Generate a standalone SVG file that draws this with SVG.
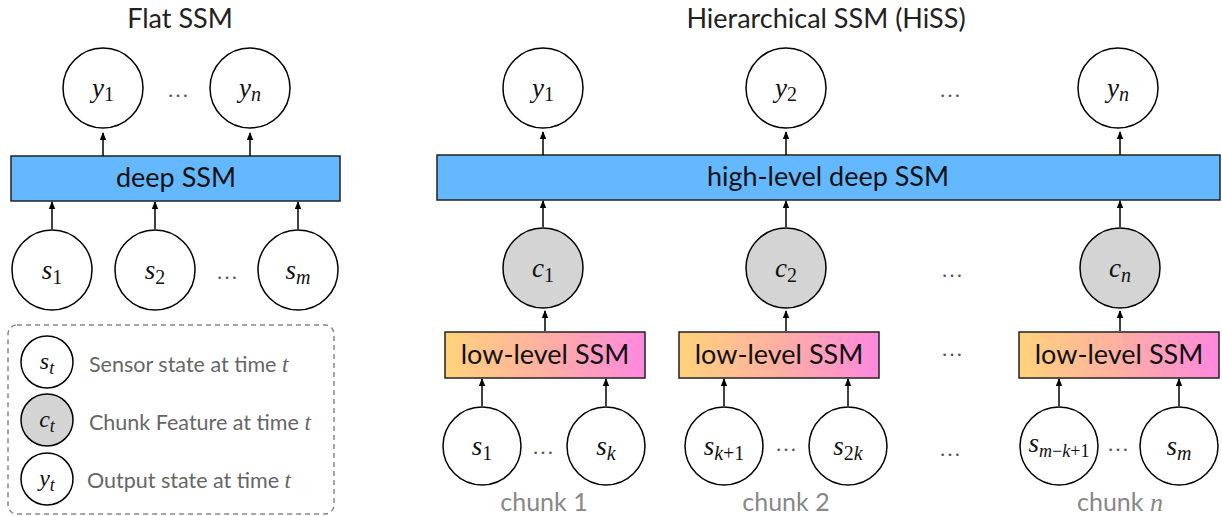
<svg xmlns="http://www.w3.org/2000/svg" width="1222" height="516" viewBox="0 0 1222 516">
<style>
.node{fill:#fff;stroke:#000;stroke-width:1.5}
.gray{fill:#d4d4d4;stroke:#000;stroke-width:1.5}
.hi{fill:#63b8ff;stroke:#222;stroke-width:1.5}
.lo{fill:url(#grad);stroke:#222;stroke-width:1.5}
.title{font-family:Lato,"Open Sans",sans-serif;font-size:27px;fill:#222;text-anchor:middle}
.box{font-family:Lato,"Open Sans",sans-serif;font-size:27px;fill:#111;text-anchor:middle}
.math{font-family:"Liberation Serif","Times New Roman",serif;font-size:27px;fill:#111;text-anchor:middle}
.sm{font-family:"Liberation Serif","Times New Roman",serif;font-size:24px;fill:#111;text-anchor:middle}
.it{font-style:italic}
.dots{font-family:"Liberation Serif",serif;font-size:22px;fill:#555;text-anchor:middle}
.leg{font-family:Lato,"Open Sans",sans-serif;font-size:21.5px;fill:#666}
.chunk{font-family:Lato,"Open Sans",sans-serif;font-size:25px;fill:#888;text-anchor:middle}
.conn line{stroke:#000;stroke-width:1.5;marker-end:url(#ah)}
</style>
<defs>
<linearGradient id="grad" x1="0" y1="0" x2="1" y2="0">
<stop offset="0" stop-color="#ffd37a"/>
<stop offset="0.5" stop-color="#ffafa2"/>
<stop offset="1" stop-color="#ff88de"/>
</linearGradient>
<marker id="ah" markerWidth="8" markerHeight="8" refX="7" refY="4" orient="auto" markerUnits="userSpaceOnUse">
<path d="M0,0.8 L8,4 L0,7.2 z" fill="#000"/>
</marker>
</defs>

<text class="title" x="180" y="28">Flat SSM</text>
<text class="title" x="826" y="28">Hierarchical SSM (HiSS)</text>

<!-- Flat SSM -->
<g id="flat-y1"><circle class="node" cx="103" cy="88" r="40"/><text class="math" x="103" y="97"><tspan class="it">y</tspan><tspan font-size="20" dy="4">1</tspan></text></g>
<text class="dots" x="178" y="97">…</text>
<g id="flat-yn"><circle class="node" cx="250" cy="88" r="40"/><text class="math" x="250" y="97"><tspan class="it">y</tspan><tspan class="it" font-size="20" dy="4">n</tspan></text></g>
<g id="flat-deep"><rect class="hi" x="11" y="156" width="329" height="45"/><text class="box" x="176" y="187">deep SSM</text></g>
<g id="flat-s1"><circle class="node" cx="52" cy="270" r="40"/><text class="math" x="52" y="279"><tspan class="it">s</tspan><tspan font-size="20" dy="5">1</tspan></text></g>
<g id="flat-s2"><circle class="node" cx="155" cy="270" r="40"/><text class="math" x="155" y="279"><tspan class="it">s</tspan><tspan font-size="20" dy="5">2</tspan></text></g>
<text class="dots" x="227" y="279">…</text>
<g id="flat-sm"><circle class="node" cx="298" cy="270" r="40"/><text class="math" x="298" y="279"><tspan class="it">s</tspan><tspan class="it" font-size="20" dy="5">m</tspan></text></g>

<!-- Legend -->
<g id="legend">
<rect x="8" y="325" width="326" height="189" rx="9" fill="none" stroke="#888" stroke-width="1.5" stroke-dasharray="5,4"/>
<circle class="node" cx="47" cy="362" r="26"/><text class="sm" x="47" y="369"><tspan class="it">s</tspan><tspan class="it" font-size="18" dy="5">t</tspan></text>
<text class="leg" x="89" y="372">Sensor state at time <tspan font-family="Liberation Serif" font-style="italic" font-size="23">t</tspan></text>
<circle class="gray" cx="47" cy="420" r="26"/><text class="sm" x="47" y="427"><tspan class="it">c</tspan><tspan class="it" font-size="18" dy="5">t</tspan></text>
<text class="leg" x="89" y="430">Chunk Feature at time <tspan font-family="Liberation Serif" font-style="italic" font-size="23">t</tspan></text>
<circle class="node" cx="47" cy="479" r="26"/><text class="sm" x="47" y="486"><tspan class="it">y</tspan><tspan class="it" font-size="18" dy="5">t</tspan></text>
<text class="leg" x="87" y="488">Output state at time <tspan font-family="Liberation Serif" font-style="italic" font-size="23">t</tspan></text>
</g>

<!-- Hierarchical -->
<g id="h-y1"><circle class="node" cx="543" cy="88" r="40"/><text class="math" x="543" y="97"><tspan class="it">y</tspan><tspan font-size="20" dy="4">1</tspan></text></g>
<g id="h-y2"><circle class="node" cx="786" cy="88" r="40"/><text class="math" x="786" y="97"><tspan class="it">y</tspan><tspan font-size="20" dy="4">2</tspan></text></g>
<text class="dots" x="950" y="97">…</text>
<g id="h-yn"><circle class="node" cx="1118" cy="88" r="40"/><text class="math" x="1118" y="97"><tspan class="it">y</tspan><tspan class="it" font-size="20" dy="4">n</tspan></text></g>
<g id="h-high"><rect class="hi" x="437" y="155" width="783" height="45"/><text class="box" x="828" y="186">high-level deep SSM</text></g>
<g id="h-c1"><circle class="gray" cx="543" cy="268" r="40"/><text class="math" x="543" y="277"><tspan class="it">c</tspan><tspan font-size="20" dy="5">1</tspan></text></g>
<g id="h-c2"><circle class="gray" cx="786" cy="268" r="40"/><text class="math" x="786" y="277"><tspan class="it">c</tspan><tspan font-size="20" dy="5">2</tspan></text></g>
<text class="dots" x="952" y="277">…</text>
<g id="h-cn"><circle class="gray" cx="1120" cy="268" r="40"/><text class="math" x="1120" y="277"><tspan class="it">c</tspan><tspan class="it" font-size="20" dy="5">n</tspan></text></g>

<g id="h-low1"><rect class="lo" x="445" y="332" width="200" height="46"/><text class="box" x="545" y="364" font-size="26">low-level SSM</text></g>
<g id="h-low2"><rect class="lo" x="679" y="332" width="200" height="46"/><text class="box" x="779" y="364" font-size="26">low-level SSM</text></g>
<text class="dots" x="952" y="356">…</text>
<g id="h-low3"><rect class="lo" x="1019" y="332" width="200" height="46"/><text class="box" x="1119" y="364" font-size="26">low-level SSM</text></g>

<g id="h-s1"><circle class="node" cx="482" cy="446" r="39"/><text class="math" x="482" y="455"><tspan class="it">s</tspan><tspan font-size="20" dy="5">1</tspan></text></g>
<text class="dots" x="543" y="454" font-size="18">…</text>
<g id="h-sk"><circle class="node" cx="606" cy="446" r="39"/><text class="math" x="606" y="455"><tspan class="it">s</tspan><tspan class="it" font-size="20" dy="5">k</tspan></text></g>
<g id="h-sk1"><circle class="node" cx="724" cy="446" r="39"/><text class="math" x="724" y="455"><tspan class="it">s</tspan><tspan font-size="20" dy="5"><tspan class="it">k</tspan>+1</tspan></text></g>
<text class="dots" x="786" y="451" font-size="18">…</text>
<g id="h-s2k"><circle class="node" cx="848" cy="446" r="39"/><text class="math" x="848" y="455"><tspan class="it">s</tspan><tspan font-size="20" dy="5">2<tspan class="it">k</tspan></tspan></text></g>
<text class="dots" x="950" y="456">…</text>
<g id="h-smk1"><circle class="node" cx="1059" cy="446" r="39"/><text class="math" x="1059" y="452" font-size="24"><tspan class="it">s</tspan><tspan font-size="18" dy="5"><tspan class="it">m</tspan>−<tspan class="it">k</tspan>+1</tspan></text></g>
<text class="dots" x="1118" y="451" font-size="18">…</text>
<g id="h-sm"><circle class="node" cx="1179" cy="446" r="39"/><text class="math" x="1179" y="455"><tspan class="it">s</tspan><tspan class="it" font-size="20" dy="5">m</tspan></text></g>

<text class="chunk" x="544" y="511">chunk 1</text>
<text class="chunk" x="786" y="511">chunk 2</text>
<text class="chunk" x="1120" y="511">chunk <tspan font-family="Liberation Serif" font-style="italic" font-size="26">n</tspan></text>

<g class="conn" id="connectors">
<line x1="103" y1="156" x2="103" y2="133"/>
<line x1="250" y1="156" x2="250" y2="133"/>
<line x1="52" y1="229" x2="52" y2="202"/>
<line x1="155" y1="229" x2="155" y2="202"/>
<line x1="298" y1="229" x2="298" y2="202"/>
<line x1="543" y1="155" x2="543" y2="132"/>
<line x1="786" y1="155" x2="786" y2="132"/>
<line x1="1120" y1="155" x2="1120" y2="132"/>
<line x1="543" y1="227" x2="543" y2="201"/>
<line x1="786" y1="227" x2="786" y2="201"/>
<line x1="1120" y1="227" x2="1120" y2="201"/>
<line x1="545" y1="331" x2="545" y2="311"/>
<line x1="786" y1="331" x2="786" y2="311"/>
<line x1="1120" y1="331" x2="1120" y2="311"/>
<line x1="482" y1="406" x2="482" y2="379"/>
<line x1="606" y1="406" x2="606" y2="379"/>
<line x1="724" y1="406" x2="724" y2="379"/>
<line x1="848" y1="406" x2="848" y2="379"/>
<line x1="1059" y1="406" x2="1059" y2="379"/>
<line x1="1179" y1="406" x2="1179" y2="379"/>
</g>
</svg>
